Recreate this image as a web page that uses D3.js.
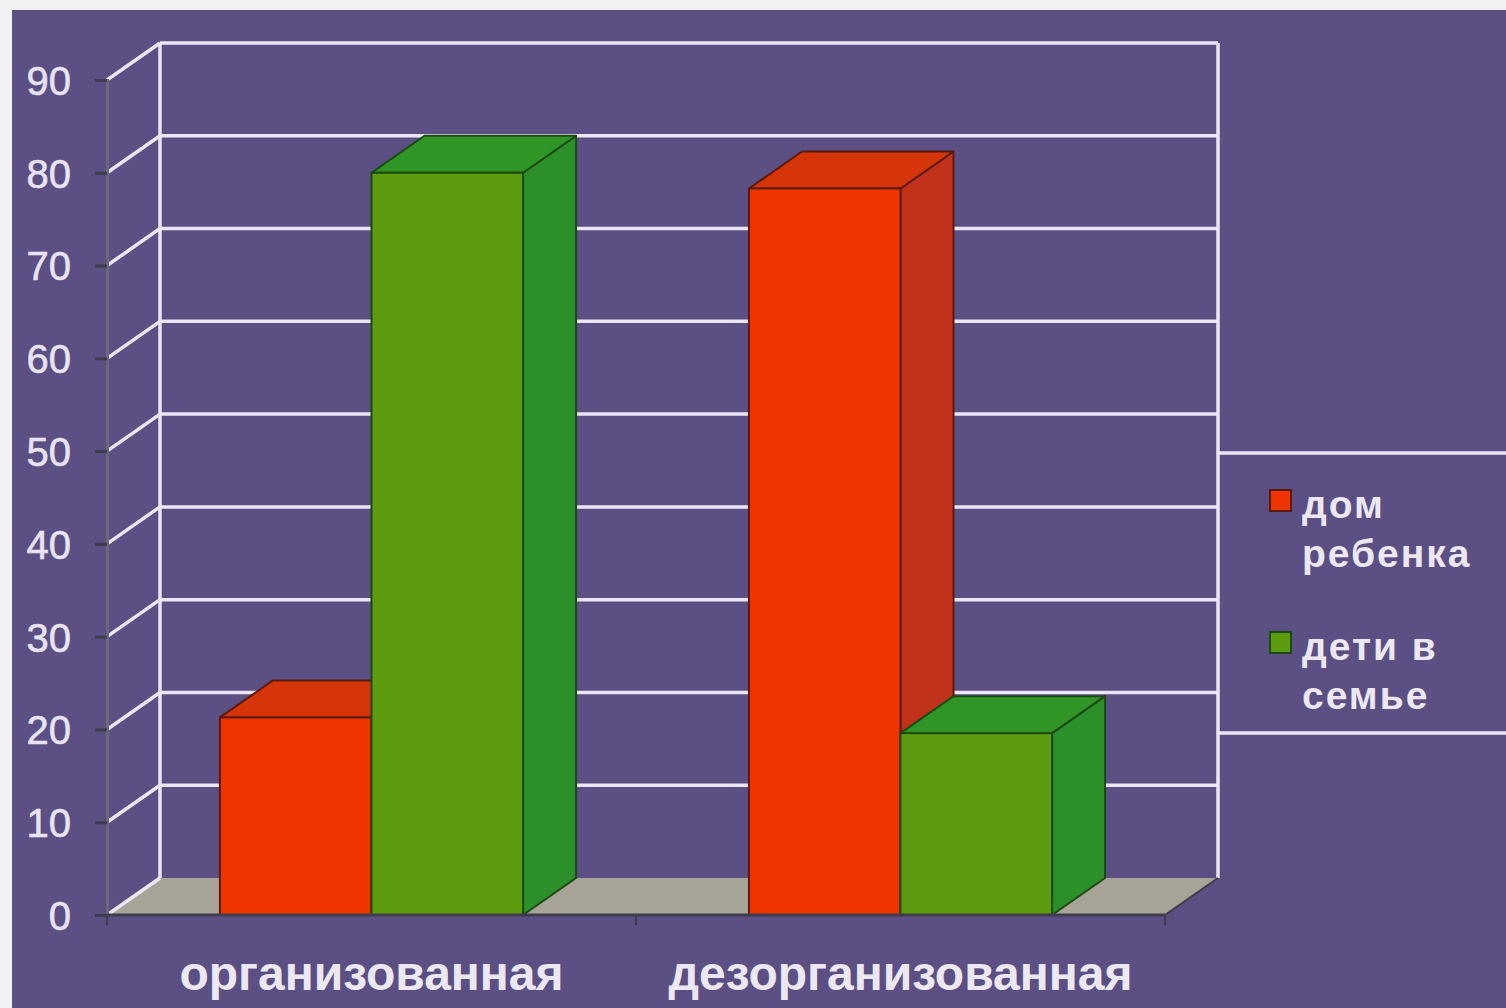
<!DOCTYPE html>
<html>
<head>
<meta charset="utf-8">
<script src="https://cdn.jsdelivr.net/npm/d3@7"></script>
<style>
  body { margin: 0; background: #f2f0f2; }
  svg { display: block; }
</style>
</head>
<body>
<div id="chart"></div>
<script>
// data
const categories = ["организованная", "дезорганизованная"];
const series = ["дом ребенка", "дети в семье"];
const domRebenka = [21.3, 78.3];
const detiVSemye = [80, 19.6];
const yTicks = [0, 10, 20, 30, 40, 50, 60, 70, 80, 90];
const legendLines = [["дом", "ребенка"], ["дети в", "семье"]];

const width = 1506;
const height = 1008;
const depth = {x: 53, y: -37};   // 3d offset of the back wall

const faceColors = [
    {front: "#f03400", top: "#d53508", side: "#c2321a", stroke: "#5a1a0c"},
    {front: "#5c9c0e", top: "#2f9524", side: "#2b8f2a", stroke: "#1c4a12"}
];

const svg = d3.select("#chart").append("svg")
    .attr("width", width)
    .attr("height", height);

// purple panel, white photo margins at top/left
svg.append("rect")
    .attr("x", 12).attr("y", 10)
    .attr("width", width - 12).attr("height", height - 10)
    .attr("fill", "#5b4f84");

const yScale = d3.scaleLinear()
    .domain([0, 90])
    .range([915, 80]);

const xScale = d3.scaleBand()
    .domain(categories)
    .range([107, 1165])
    .paddingInner(0.427)
    .paddingOuter(0.2135);

const xSeries = d3.scaleBand()
    .domain(series)
    .range([0, xScale.bandwidth()]);

const x0 = xScale.range()[0], x1 = xScale.range()[1];

// floor
svg.append("path")
    .attr("d", `M${x0},${yScale(0)} L${x1},${yScale(0)} L${x1 + depth.x},${yScale(0) + depth.y} L${x0 + depth.x},${yScale(0) + depth.y} Z`)
    .attr("fill", "#a7a397");

// back wall gridlines + the diagonal on the side wall
const grid = svg.append("g")
    .attr("stroke", "#ece6f4")
    .attr("stroke-width", 3.5);

grid.selectAll(".hline")
    .data(yTicks.filter(d => d > 0))
    .enter().append("line")
        .attr("x1", x0 + depth.x)
        .attr("x2", x1 + depth.x)
        .attr("y1", d => yScale(d) + depth.y)
        .attr("y2", d => yScale(d) + depth.y);

grid.selectAll(".diag")
    .data(yTicks)
    .enter().append("line")
        .attr("x1", x0)
        .attr("x2", x0 + depth.x)
        .attr("y1", d => yScale(d))
        .attr("y2", d => yScale(d) + depth.y);

// back wall verticals
grid.append("line")
    .attr("x1", x0 + depth.x).attr("x2", x0 + depth.x)
    .attr("y1", yScale(90) + depth.y).attr("y2", yScale(0) + depth.y);
grid.append("line")
    .attr("x1", x1 + depth.x).attr("x2", x1 + depth.x)
    .attr("y1", yScale(90) + depth.y).attr("y2", yScale(0) + depth.y);

// legend box lines
grid.append("line")
    .attr("x1", x1 + depth.x).attr("x2", width)
    .attr("y1", 453).attr("y2", 453);
grid.append("line")
    .attr("x1", x1 + depth.x).attr("x2", width)
    .attr("y1", 733).attr("y2", 733);

// floor edges
svg.append("line")
    .attr("x1", x1).attr("y1", yScale(0))
    .attr("x2", x1 + depth.x).attr("y2", yScale(0) + depth.y)
    .attr("stroke", "#3c3a44").attr("stroke-width", 2);

// bars
const bars = [];
categories.forEach((c, i) => {
    bars.push({cat: c, s: 0, value: domRebenka[i]});
    bars.push({cat: c, s: 1, value: detiVSemye[i]});
});

const barG = svg.append("g");
bars.forEach(b => {
    const bx = xScale(b.cat) + xSeries(series[b.s]);
    const bw = xSeries.bandwidth();
    const top = yScale(b.value);
    const base = yScale(0);
    const col = faceColors[b.s];
    const g = barG.append("g")
        .attr("stroke", col.stroke)
        .attr("stroke-width", 2)
        .attr("stroke-linejoin", "round");
    // side
    g.append("path")
        .attr("d", `M${bx + bw},${top} L${bx + bw + depth.x},${top + depth.y} L${bx + bw + depth.x},${base + depth.y} L${bx + bw},${base} Z`)
        .attr("fill", col.side);
    // top
    g.append("path")
        .attr("d", `M${bx},${top} L${bx + depth.x},${top + depth.y} L${bx + bw + depth.x},${top + depth.y} L${bx + bw},${top} Z`)
        .attr("fill", col.top);
    // front
    g.append("rect")
        .attr("x", bx).attr("y", top)
        .attr("width", bw).attr("height", base - top)
        .attr("fill", col.front);
});

// axes
const axisColor = "#3f3c4c";
const yAxisG = svg.append("g")
    .attr("transform", `translate(${x0},0)`)
    .call(d3.axisLeft(yScale).tickValues(yTicks).tickSize(12).tickPadding(24));
yAxisG.select(".domain").attr("stroke", "#6c6878").attr("stroke-width", 3);
yAxisG.selectAll(".tick line").attr("stroke", axisColor).attr("stroke-width", 3);
yAxisG.selectAll("text")
    .attr("fill", "#e8e3f0")
    .attr("font-family", "Liberation Sans, Arial, sans-serif")
    .attr("font-size", 40)
    .attr("stroke", "#e8e3f0")
    .attr("stroke-width", 0.6)
    .attr("dy", "0.36em");

const xAxisG = svg.append("g")
    .attr("transform", `translate(0,${yScale(0)})`);
xAxisG.append("line")
    .attr("x1", x0).attr("x2", x1)
    .attr("stroke", axisColor).attr("stroke-width", 3);
xAxisG.selectAll(".xt")
    .data([x0, (x0 + x1) / 2, x1])
    .enter().append("line")
        .attr("x1", d => d).attr("x2", d => d)
        .attr("y1", 0).attr("y2", 10)
        .attr("stroke", axisColor).attr("stroke-width", 2);

svg.selectAll(".catlabel")
    .data(categories)
    .enter().append("text")
        .attr("x", d => xScale(d) + xScale.bandwidth() / 2)
        .attr("y", 990)
        .attr("text-anchor", "middle")
        .attr("fill", "#ece8f2")
        .attr("font-family", "Liberation Sans, Arial, sans-serif")
        .attr("font-weight", "bold")
        .attr("font-size", 48)
        .text(d => d);

// legend
const legend = svg.append("g");
const legendY = [490, 632];
legendLines.forEach((lines, i) => {
    legend.append("rect")
        .attr("x", 1270).attr("y", legendY[i])
        .attr("width", 21).attr("height", 21)
        .attr("fill", faceColors[i].front)
        .attr("stroke", faceColors[i].stroke)
        .attr("stroke-width", 2);
    lines.forEach((t, j) => {
        legend.append("text")
            .attr("x", 1302)
            .attr("y", legendY[i] + 28 + j * 49)
            .attr("fill", "#ece8f2")
            .attr("font-family", "Liberation Sans, Arial, sans-serif")
            .attr("font-weight", "bold")
            .attr("font-size", 39)
            .attr("letter-spacing", 2)
            .text(t);
    });
});
</script>
</body>
</html>
